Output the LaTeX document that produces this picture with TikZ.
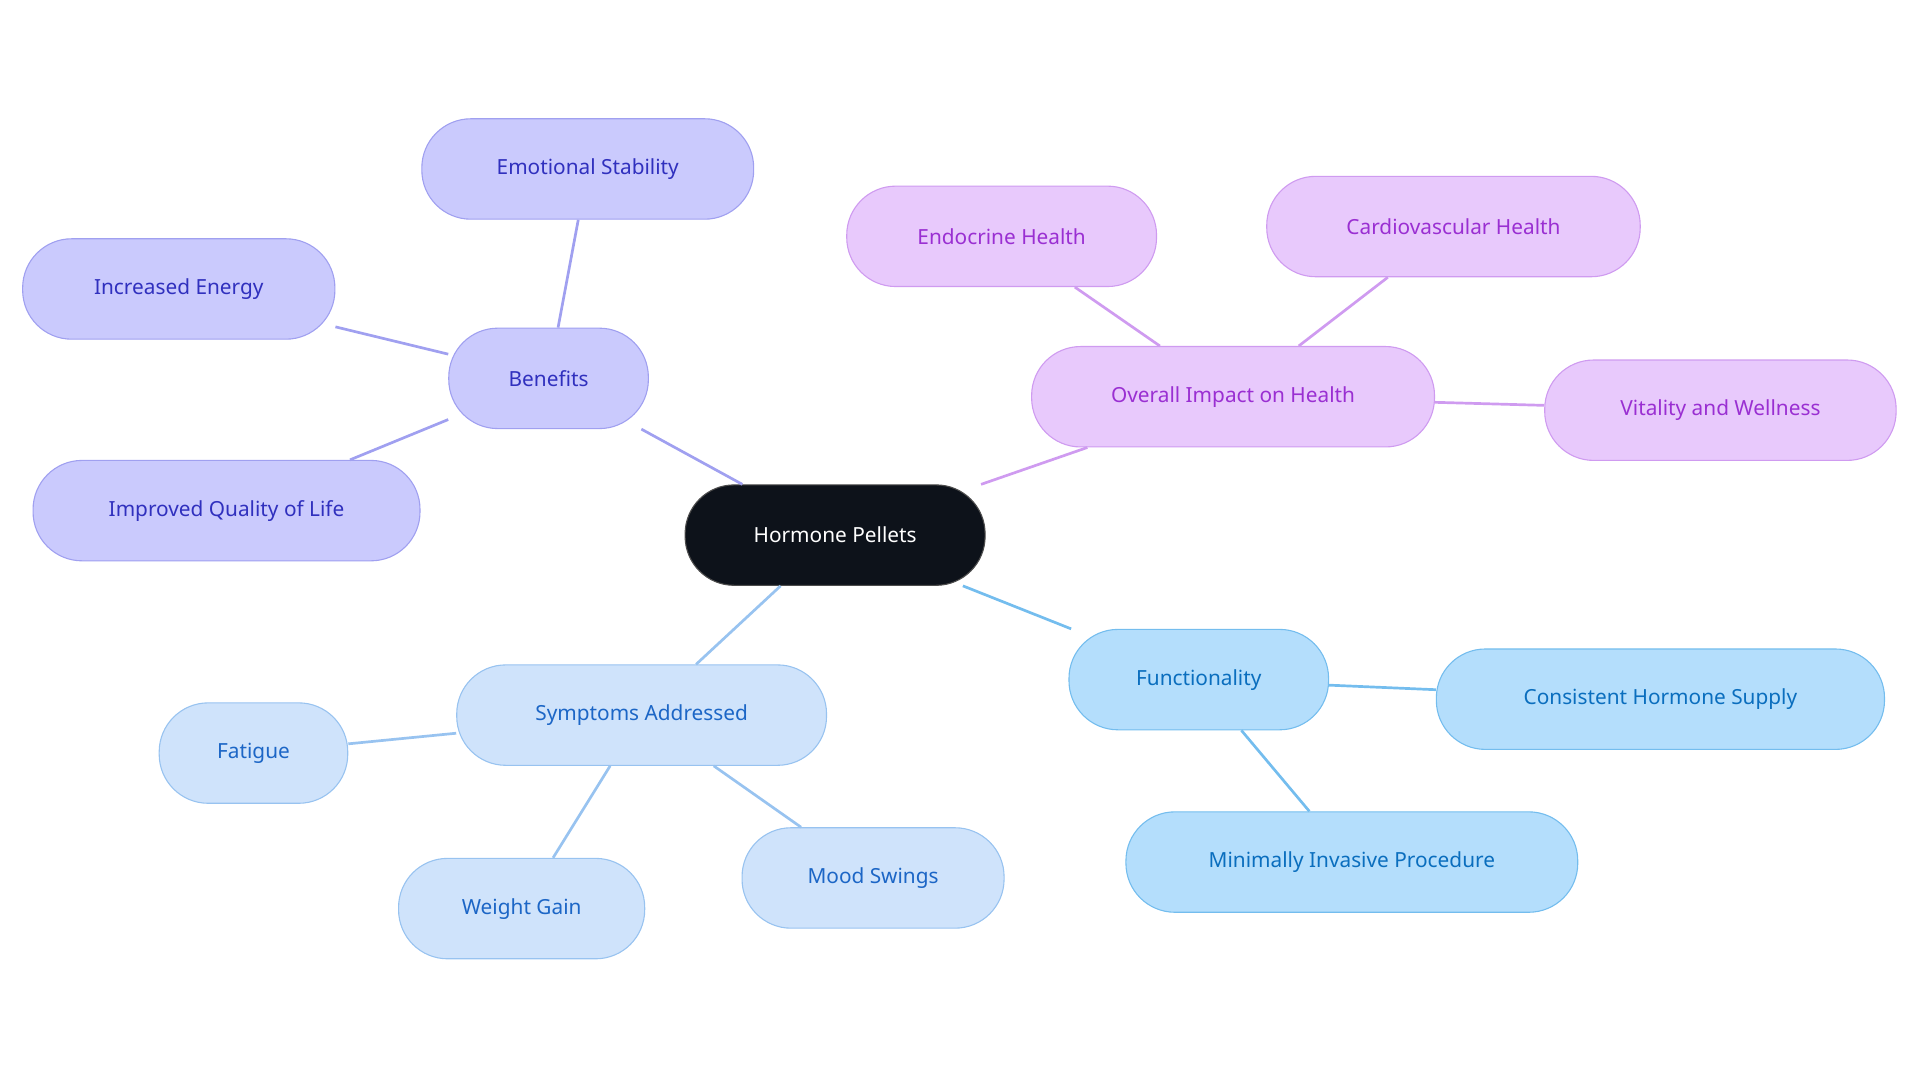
\documentclass[tikz,border=0pt]{standalone}
\usepackage{fontspec}
\setmainfont{Noto Sans}
\usetikzlibrary{positioning}
\definecolor{rootfill}{HTML}{0D121A}
\definecolor{benfill}{HTML}{CACAFD}
\definecolor{bendraw}{HTML}{A0A0F0}
\definecolor{bentext}{HTML}{3030BE}
\definecolor{impfill}{HTML}{E8C9FC}
\definecolor{impdraw}{HTML}{CF9BF0}
\definecolor{imptext}{HTML}{9A2FD2}
\definecolor{funfill}{HTML}{B4DEFC}
\definecolor{fundraw}{HTML}{74BDEE}
\definecolor{funtext}{HTML}{0A6EBE}
\definecolor{symfill}{HTML}{CFE3FB}
\definecolor{symdraw}{HTML}{98C3F0}
\definecolor{symtext}{HTML}{1C66C6}
\tikzset{
    topic/.style={
      rectangle,
      rounded corners=40pt,
      line width=0.9pt,
      minimum height=82pt,
      inner sep=2pt,
      text centered,
      font=\fontsize{17}{20}\selectfont,
    },
    root/.style={topic, fill=rootfill, draw=black!70, text=white},
    ben/.style={topic, fill=benfill, draw=bendraw, text=bentext},
    imp/.style={topic, fill=impfill, draw=impdraw, text=imptext},
    fun/.style={topic, fill=funfill, draw=fundraw, text=funtext},
    sym/.style={topic, fill=symfill, draw=symdraw, text=symtext},
    link/.style={line width=2.2pt},
}

\begin{document}
\begin{tikzpicture}[x=1pt,y=-1pt]
    \useasboundingbox (0,0) rectangle (1568,884);

    \node[root, minimum width=245pt] (HP) at (682,437) {Hormone Pellets};

    \node[ben, minimum width=163pt] (BEN) at (448,309) {Benefits};
    \node[ben, minimum width=271pt] (EMO) at (480,138) {Emotional Stability};
    \node[ben, minimum width=255pt] (ENE) at (146,236) {Increased Energy};
    \node[ben, minimum width=316pt] (QOL) at (185,417) {Improved Quality of Life};

    \node[imp, minimum width=329pt] (IMP) at (1007,324) {Overall Impact on Health};
    \node[imp, minimum width=253pt] (END) at (818,193) {Endocrine Health};
    \node[imp, minimum width=305pt] (CAR) at (1187,185) {Cardiovascular Health};
    \node[imp, minimum width=287pt] (VIT) at (1405,335) {Vitality and Wellness};

    \node[fun, minimum width=212pt] (FUN) at (979,555) {Functionality};
    \node[fun, minimum width=366pt] (CON) at (1356,571) {Consistent Hormone Supply};
    \node[fun, minimum width=369pt] (MIN) at (1104,704) {Minimally Invasive Procedure};

    \node[sym, minimum width=302pt] (SYM) at (524,584) {Symptoms Addressed};
    \node[sym, minimum width=154pt] (FAT) at (207,615) {Fatigue};
    \node[sym, minimum width=201pt] (WEI) at (426,742) {Weight Gain};
    \node[sym, minimum width=214pt] (MOO) at (713,717) {Mood Swings};

    \begin{scope}[on background layer/.style={}]
    \end{scope}

    \path[link, draw=bendraw]
    (HP) -- (BEN) (BEN) -- (EMO) (BEN) -- (ENE) (BEN) -- (QOL);
    \path[link, draw=impdraw]
    (HP) -- (IMP) (IMP) -- (END) (IMP) -- (CAR) (IMP) -- (VIT);
    \path[link, draw=fundraw]
    (HP) -- (FUN) (FUN) -- (CON) (FUN) -- (MIN);
    \path[link, draw=symdraw]
    (HP) -- (SYM) (SYM) -- (FAT) (SYM) -- (WEI) (SYM) -- (MOO);
\end{tikzpicture}
\end{document}
